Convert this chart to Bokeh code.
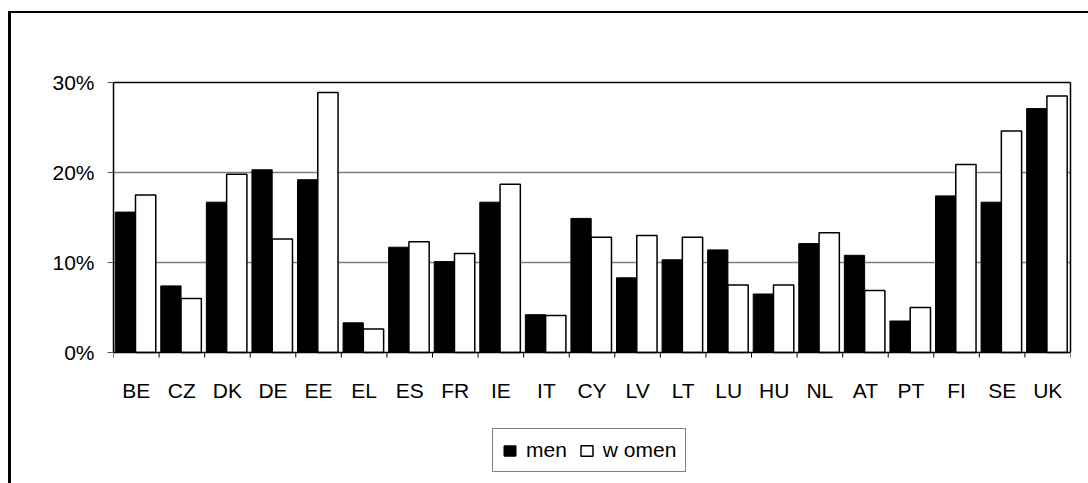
import numpy as np
from bokeh.plotting import figure
from bokeh.models import (Range1d, FixedTicker, Legend, LegendItem, LinearAxis,
                          ColumnDataSource, InlineStyleSheet, Span)
from bokeh.core.properties import value
from bokeh.transform import dodge
from bokeh.embed import file_html
from bokeh.resources import INLINE

countries = ["BE", "CZ", "DK", "DE", "EE", "EL", "ES", "FR", "IE", "IT", "CY",
             "LV", "LT", "LU", "HU", "NL", "AT", "PT", "FI", "SE", "UK"]
men = [15.6, 7.4, 16.7, 20.3, 19.2, 3.3, 11.7, 10.1, 16.7, 4.2, 14.9,
       8.3, 10.3, 11.4, 6.5, 12.1, 10.8, 3.5, 17.4, 16.7, 27.1]
women = [17.5, 6.0, 19.8, 12.6, 28.9, 2.6, 12.3, 11.0, 18.7, 4.1, 12.8,
         13.0, 12.8, 7.5, 7.5, 13.3, 6.9, 5.0, 20.9, 24.6, 28.5]
y_ticks = [0, 10, 20, 30]
y_labels = ["0%", "10%", "20%", "30%"]
series_labels = ["men", "w omen"]

FONT = "Liberation Sans"
n = len(countries)
pos = (np.arange(n) + 0.5).tolist()      # category centres
edges = list(range(n + 1))               # category boundaries

# layout (pixels): plot area 82..352 holds 0..30 %, the frame reaches the
# bottom of the picture so the legend can sit below the axis
Y_MAX = 30
PX_PER_UNIT = (352 - 82) / Y_MAX
y_bottom = -(483 - 352) / PX_PER_UNIT
tick_len = 5 / PX_PER_UNIT
label_base = -38 / PX_PER_UNIT

source = ColumnDataSource(dict(country=countries, pos=pos, men=men, women=women))

p = figure(x_range=Range1d(0, n), y_range=Range1d(y_bottom, Y_MAX),
           width=1088, height=483, output_backend="svg", toolbar_location=None,
           x_axis_location=None,
           min_border_left=113, min_border_right=18,
           min_border_top=82, min_border_bottom=0)
p.background_fill_color = "white"
p.border_fill_color = "white"
p.outline_line_color = None

# chart-area border (top and left edges visible in the reference)
p.stylesheets = [InlineStyleSheet(css="""
:host::after {
  content: '';
  position: absolute;
  left: 7.5px;
  top: 11px;
  width: 1080px;
  height: 472px;
  border-top: 2.5px solid black;
  border-left: 3px solid black;
  box-sizing: border-box;
  pointer-events: none;
  z-index: 100;
}
""")]

# y axis
ya = p.yaxis[0]
ya.bounds = (0, Y_MAX)
ya.ticker = FixedTicker(ticks=y_ticks)
ya.major_label_overrides = {t: l for t, l in zip(y_ticks, y_labels)}
ya.minor_tick_line_color = None
ya.major_tick_out = 6
ya.major_tick_in = 0
ya.major_tick_line_color = "#555555"
ya.axis_line_color = "black"
ya.axis_line_width = 1.5
ya.major_label_text_font = FONT
ya.major_label_text_font_size = "21px"
ya.major_label_text_color = "black"
ya.major_label_standoff = 13

# plot-area border: top and right edges
top_edge = LinearAxis(ticker=FixedTicker(ticks=[]), axis_line_color="black",
                      axis_line_width=1.5, major_tick_line_color=None,
                      minor_tick_line_color=None, major_tick_out=0,
                      major_tick_in=0, minor_tick_out=0, minor_tick_in=0,
                      major_label_standoff=0)
p.add_layout(top_edge, "above")
right_edge = LinearAxis(ticker=FixedTicker(ticks=[]), bounds=(0, Y_MAX),
                        axis_line_color="black", axis_line_width=1.5,
                        major_tick_line_color=None, minor_tick_line_color=None,
                        major_tick_out=0, major_tick_in=0, minor_tick_out=0,
                        minor_tick_in=0, major_label_standoff=0)
p.add_layout(right_edge, "right")

p.xgrid.visible = False
p.ygrid.ticker = FixedTicker(ticks=[t for t in y_ticks if 0 < t < Y_MAX])
p.ygrid.grid_line_color = "#808080"
p.ygrid.grid_line_width = 1.3

r1 = p.vbar(x=dodge("pos", -0.24), top="men", width=0.445,
            source=source, fill_color="black", line_color="black", line_width=1)
r2 = p.vbar(x=dodge("pos", 0.205), top="women", width=0.445,
            source=source, fill_color="white", line_color="black", line_width=1.5)

# category axis at 0 %: line, boundary ticks and labels
p.add_layout(Span(location=0, dimension="width", line_color="black",
                  line_width=1.5))
p.segment(x0=edges, y0=[0] * len(edges), x1=edges, y1=[-tick_len] * len(edges),
          line_color="black", line_width=1)
p.text(x="pos", y=label_base, text="country", source=source,
       text_align="center", text_baseline="alphabetic",
       text_font=value(FONT), text_font_size=value("21px"), text_color="black")

legend = Legend(items=[LegendItem(label=series_labels[0], renderers=[r1]),
                       LegendItem(label=series_labels[1], renderers=[r2])],
                orientation="horizontal", location=(379, 11))
legend.border_line_color = "black"
legend.border_line_width = 1
legend.background_fill_color = "white"
legend.background_fill_alpha = 1
legend.label_text_font = FONT
legend.label_text_font_size = "21px"
legend.label_text_color = "black"
legend.glyph_width = 15
legend.glyph_height = 13
legend.label_standoff = 9
legend.spacing = 12
legend.padding = 9
legend.margin = 0
p.add_layout(legend, "center")

open("out.html", "w").write(file_html(p, INLINE))
